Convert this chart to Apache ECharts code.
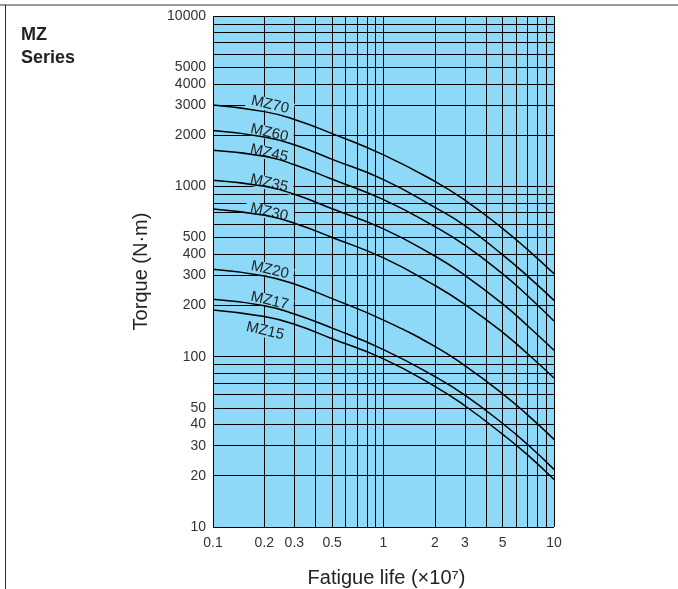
<!DOCTYPE html>
<html>
<head>
<meta charset="utf-8">
<script src="https://cdn.jsdelivr.net/npm/echarts@6/dist/echarts.min.js"></script>
<style>
html,body{margin:0;padding:0;background:#fff;}
#chart{width:678px;height:589px;}
</style>
</head>
<body>
<div id="chart"></div>
<script>
// Fatigue life (x10^7) sample positions
const xValues = [0.1, 0.2, 0.3, 0.5, 1, 2, 3, 5, 7, 10];
// Torque (N·m)
const mz70 = [3000, 2745, 2470, 2040, 1530, 1070, 830, 565, 425, 307];
const mz60 = [2124, 1950, 1755, 1440, 1095, 752, 588, 396, 297, 214];
const mz45 = [1627, 1500, 1340, 1100, 835, 580, 451, 306, 228, 162];
const mz35 = [1085, 1000, 898, 738, 563, 390, 300, 204, 152, 109];
const mz30 = [737, 676, 607, 501, 380, 262, 203, 139, 104, 75];
const mz20 = [326, 298, 267, 219, 164, 115, 88.5, 60.5, 45.5, 32.7];
const mz17 = [217, 199, 178, 147, 110, 76.5, 59.5, 40.5, 30.5, 21.8];
const mz15 = [188, 172, 155, 127.5, 97, 67, 51.5, 35, 26.5, 19];
const seriesNames = ['MZ70', 'MZ60', 'MZ45', 'MZ35', 'MZ30', 'MZ20', 'MZ17', 'MZ15'];
const seriesValues = [mz70, mz60, mz45, mz35, mz30, mz20, mz17, mz15];

// axis grid lines and tick labels
const xGridValues = [0.1, 0.2, 0.3, 0.4, 0.5, 0.6, 0.7, 0.8, 0.9, 1, 2, 3, 4, 5, 6, 7, 8, 9, 10];
const xTickLabels = [0.1, 0.2, 0.3, 0.5, 1, 2, 3, 5, 10];
const yGridValues = [10, 20, 30, 40, 50, 60, 70, 80, 90, 100, 200, 300, 400, 500, 600, 700, 800, 900,
  1000, 2000, 3000, 4000, 5000, 6000, 7000, 8000, 9000, 10000];
const yTickLabels = [10, 20, 30, 40, 50, 100, 200, 300, 400, 500, 1000, 2000, 3000, 4000, 5000, 10000];

// label offsets (pixels) relative to the x = 0.2 point of each curve
const labelOffsets = [[4, -8], [4, -5], [4, -4], [4, -4], [4, -4], [4, -7], [4, -6], [4, 14]];

const FONT = '"Liberation Sans", Arial, Helvetica, sans-serif';
const BLUE = '#8ED8F8';

const chart = echarts.init(document.getElementById('chart'), null, {renderer: 'canvas'});

const series = seriesNames.map((name, i) => ({
  name: name,
  type: 'line',
  z: 3,
  smooth: 0.5,
  showSymbol: false,
  symbol: 'none',
  lineStyle: {color: '#000', width: 1.5},
  data: xValues.map((x, j) => [x, seriesValues[i][j]]),
  markPoint: {
    z: 1,
    symbol: 'circle',
    symbolSize: 0,
    silent: true,
    data: [{
      coord: [xValues[1], seriesValues[i][1]],
      label: {
        show: true,
        formatter: name,
        position: 'inside',
        offset: labelOffsets[i],
        rotate: -13,
        fontFamily: FONT,
        fontSize: 15,
        color: '#222',
        backgroundColor: BLUE,
        padding: [0, 5],
        lineHeight: 13
      }
    }]
  }
}));

chart.setOption({
  animation: false,
  backgroundColor: '#fff',
  grid: {left: 213, top: 16, width: 341, height: 511, show: true, backgroundColor: BLUE, borderWidth: 0,
    outerBoundsMode: 'none', containLabel: false},
  xAxis: {
    type: 'log',
    logBase: 10,
    min: 0.1,
    max: 10,
    axisLine: {show: false},
    axisTick: {show: false, customValues: xGridValues},
    axisLabel: {customValues: xTickLabels, formatter: v => String(v), fontFamily: FONT, fontSize: 14, color: '#333', margin: 9},
    splitLine: {show: true, lineStyle: {color: '#000', width: 1}},
    name: 'Fatigue life (×10⁷)',
    nameLocation: 'middle',
    nameGap: 41,
    nameTextStyle: {fontFamily: FONT, fontSize: 20, color: '#222', padding: [0, 0, 0, 6]}
  },
  yAxis: {
    type: 'log',
    logBase: 10,
    min: 10,
    max: 10000,
    axisLine: {show: false},
    axisTick: {show: false, customValues: yGridValues},
    axisLabel: {customValues: yTickLabels, formatter: v => String(v), fontFamily: FONT, fontSize: 14, color: '#333', margin: 7},
    splitLine: {show: true, lineStyle: {color: '#000', width: 1}},
    name: 'Torque (N·m)',
    nameLocation: 'middle',
    nameGap: 62,
    nameTextStyle: {fontFamily: FONT, fontSize: 20, color: '#222'}
  },
  graphic: [
    {type: 'line', shape: {x1: 0, y1: 5, x2: 678, y2: 5}, style: {stroke: '#777', lineWidth: 1.5}},
    {type: 'line', shape: {x1: 5.5, y1: 5, x2: 5.5, y2: 589}, style: {stroke: '#333', lineWidth: 1}},
    {type: 'text', left: 21, top: 24, style: {text: 'MZ\nSeries', font: 'bold 18px ' + FONT, fill: '#222', lineHeight: 23}}
  ],
  series: series
});
</script>
</body>
</html>
